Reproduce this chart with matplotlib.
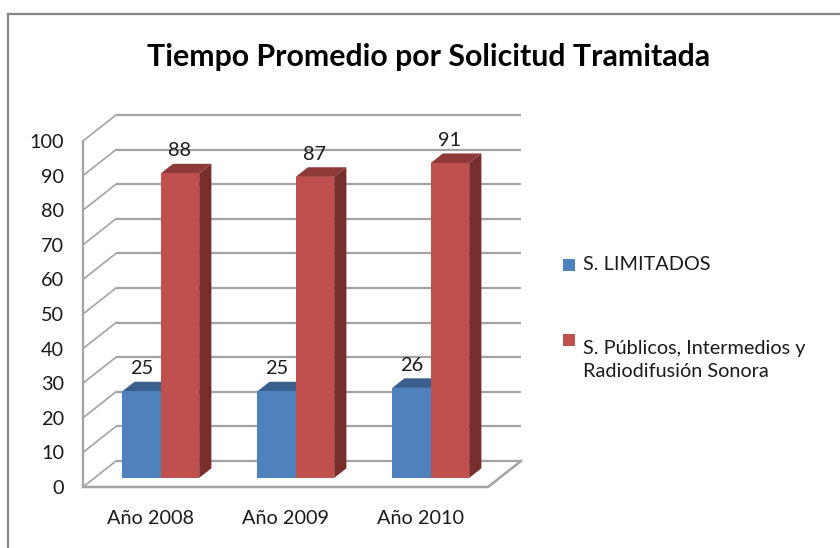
import matplotlib
matplotlib.use("Agg")
import matplotlib.pyplot as plt
from matplotlib.patches import Polygon, Rectangle
from matplotlib.lines import Line2D

# datos del grafico
years = ["Año 2008", "Año 2009", "Año 2010"]
limitados = [25, 25, 26]
publicos = [88, 87, 91]
series_names = ["S. LIMITADOS", "S. Públicos, Intermedios y\nRadiodifusión Sonora"]
yticks = list(range(0, 101, 10))

BLUE = "#4f81bd"
BLUE_TOP = "#3a5f8c"
BLUE_SIDE = "#2f4d74"
RED = "#c0504d"
RED_TOP = "#8e3a38"
RED_SIDE = "#772e2c"
GRID = "#a3a3a3"
FS = 14.3

W, H = 840, 548
plt.rcParams['font.family'] = ['Lato', 'DejaVu Sans']

fig = plt.figure(figsize=(W / 100, H / 100), dpi=100)


def fx(px):
    return px / W


def fy(py):
    return 1 - py / H


# ejes: plano frontal del grafico 3D
ax = fig.add_axes([fx(83), fy(487), 405 / W, 346 / H])
ax.set_xlim(0, len(years))
ax.set_ylim(0, 100)
for s in ax.spines.values():
    s.set_visible(False)

# profundidad (proyeccion oblicua) en unidades de datos
DX = 33 / 135.0
DY = 26 / 3.46
BAR_D = 0.35   # posicion del frente de las barras
BAR_DEPTH = 0.37
BAR_W = 0.285
OFFS = [0.3475, 0.6325]

n = len(years)
# pared del fondo y pared lateral
for v in yticks:
    ax.plot([DX, n + DX], [v + DY, v + DY], color=GRID, lw=1.6, zorder=1,
            clip_on=False, solid_capstyle='butt')
    ax.plot([0, DX], [v, v + DY], color=GRID, lw=1.2, zorder=1, clip_on=False)
ax.plot([0, 0], [0, 100], color=GRID, lw=1.6, zorder=1, clip_on=False)
# suelo
ax.plot([0, n, n + DX], [0, 0, DY], color=GRID, lw=1.8, zorder=1, clip_on=False)

# barras
for i in range(n):
    for k, (vals, cf, ct, cs) in enumerate([(limitados, BLUE, BLUE_TOP, BLUE_SIDE),
                                             (publicos, RED, RED_TOP, RED_SIDE)]):
        v = vals[i]
        xc = i + OFFS[k] + BAR_D * DX
        y0 = BAR_D * DY
        x0, x1 = xc - BAR_W / 2, xc + BAR_W / 2
        ddx, ddy = BAR_DEPTH * DX, BAR_DEPTH * DY
        z = 3 + 2 * i + k
        ax.add_patch(Polygon([(x1, y0), (x1, y0 + v), (x1 + ddx, y0 + v + ddy), (x1 + ddx, y0 + ddy)],
                             closed=True, facecolor=cs, edgecolor='none', zorder=z, clip_on=False))
        ax.add_patch(Polygon([(x0, y0 + v), (x1, y0 + v), (x1 + ddx, y0 + v + ddy), (x0 + ddx, y0 + v + ddy)],
                             closed=True, facecolor=ct, edgecolor='none', zorder=z, clip_on=False))
        ax.bar(xc, v, BAR_W, bottom=y0, color=cf, zorder=z + 0.5, clip_on=False)
        ax.text(xc, y0 + v + 6.5, str(v), ha='center', va='center', fontsize=FS,
                color='#1a1a1a', zorder=20)

ax.set_yticks(yticks)
ax.set_yticklabels([str(t) for t in yticks])
ax.set_xticks([i + 0.5 for i in range(n)])
ax.set_xticklabels(years)
ax.tick_params(axis='y', length=0, pad=13.5, labelsize=FS, labelcolor='#1a1a1a')
ax.tick_params(axis='x', length=0, pad=16.5, labelsize=FS, labelcolor='#1a1a1a')

# titulo
fig.text(fx(429), fy(57), "Tiempo Promedio por Solicitud Tramitada", ha='center', va='center',
         fontsize=21.8, fontweight='bold', color='black')

# leyenda
for (py, name, col) in [(265, series_names[0], BLUE), (340, series_names[1], RED)]:
    fig.patches.append(Rectangle((fx(563), fy(py + 6)), 12 / W, 12 / H, transform=fig.transFigure,
                                 facecolor=col, edgecolor='none'))
    fig.text(fx(583), fy(py), name, ha='left', va='top' if '\n' in name else 'center',
             fontsize=FS, color='#1a1a1a', linespacing=1.45)

# borde del area del grafico
fig.add_artist(Line2D([fx(8), fx(8)], [fy(14), 0], color='#858585', lw=1.6))
fig.add_artist(Line2D([fx(8), 1], [fy(14), fy(14)], color='#858585', lw=1.6))

fig.savefig("out.png", dpi=100)
